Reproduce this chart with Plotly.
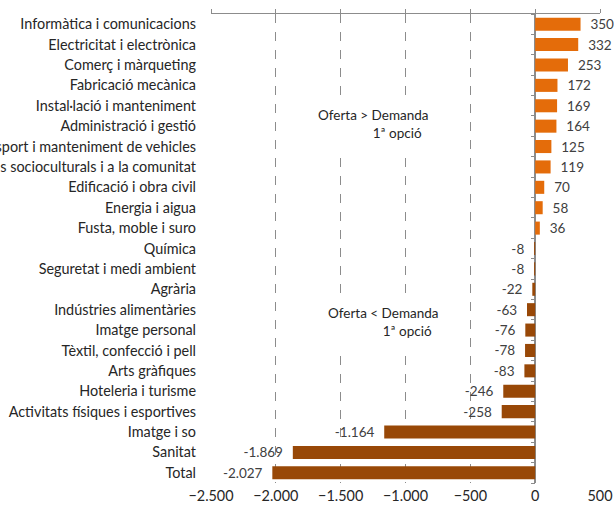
import plotly.graph_objects as go

categories = [
    "Informàtica i comunicacions", "Electricitat i electrònica", "Comerç i màrqueting",
    "Fabricació mecànica", "Instal·lació i manteniment", "Administració i gestió",
    "Transport i manteniment de vehicles", "Serveis socioculturals i a la comunitat",
    "Edificació i obra civil", "Energia i aigua", "Fusta, moble i suro", "Química",
    "Seguretat i medi ambient", "Agrària", "Indústries alimentàries", "Imatge personal",
    "Tèxtil, confecció i pell", "Arts gràfiques", "Hoteleria i turisme",
    "Activitats físiques i esportives", "Imatge i so", "Sanitat", "Total",
]
values = [350, 332, 253, 172, 169, 164, 125, 119, 70, 58, 36, -8, -8, -22, -63, -76,
          -78, -83, -246, -258, -1164, -1869, -2027]
x_ticks = [-2500, -2000, -1500, -1000, -500, 0, 500]

POS = "#E46C0A"
NEG = "#984807"
colors = [POS if v >= 0 else NEG for v in values]
label_templates = ["&nbsp;&nbsp;%{x:,}" if v >= 0 else "%{x:,}&nbsp;&nbsp;" for v in values]
FONT = "Lato"
FS = 14.4
TXT = "#262626"
GRID = "#8c8c8c"
AXIS = "#8c8c8c"
n = len(categories)
row_index = list(range(n))
boundaries = [i - 0.5 for i in range(n + 1)]

fig = go.Figure()
fig.add_trace(go.Bar(
    y=categories, x=values, orientation="h",
    marker=dict(color=colors, line=dict(width=0)),
    texttemplate=label_templates, textposition="outside",
    constraintext="none",
    textfont=dict(family=FONT, size=13.5, color="#404040"),
    cliponaxis=False, hoverinfo="skip",
))
fig.add_trace(go.Scatter(
    y=row_index, x=values, xaxis="x2", yaxis="y2", mode="markers",
    marker=dict(opacity=0), hoverinfo="skip", showlegend=False,
))

fig.add_annotation(x=-1246, y=4.9, xref="x", yref="y",
                   text="Oferta > Demanda<br>1ª opció&nbsp;&nbsp;", showarrow=False,
                   align="right", bgcolor="white", borderpad=8,
                   font=dict(family=FONT, size=13.5, color=TXT))
fig.add_annotation(x=-1169, y=14.6, xref="x", yref="y",
                   text="Oferta < Demanda<br>1ª opció&nbsp;&nbsp;", showarrow=False,
                   align="right", bgcolor="white", borderpad=8,
                   font=dict(family=FONT, size=13.5, color=TXT))

fig.update_layout(
    width=614, height=507,
    margin=dict(l=211, r=14, t=14, b=24),
    paper_bgcolor="white", plot_bgcolor="white",
    separators=",.",
    showlegend=False,
    bargap=0.36,
    hovermode=False,
    font=dict(family=FONT, size=FS, color=TXT),
    xaxis=dict(
        range=[-2500, 500], tickvals=x_ticks, tickformat=",",
        showgrid=True, gridcolor=GRID, griddash="dash", gridwidth=1,
        zeroline=True, zerolinecolor=AXIS, zerolinewidth=1.5,
        showline=False, ticks="", automargin=False, ticklabelstandoff=3,
        tickfont=dict(family=FONT, size=FS, color=TXT),
    ),
    xaxis2=dict(
        overlaying="x", side="top", matches="x", range=[-2500, 500],
        tickvals=x_ticks, showticklabels=False, showgrid=False, zeroline=False,
        showline=True, linecolor=AXIS, linewidth=1.5,
        ticks="outside", ticklen=4, tickcolor=AXIS, automargin=False,
    ),
    yaxis=dict(
        range=[n - 0.5, -0.5], automargin=False, showgrid=False,
        ticks="", ticklabelstandoff=14,
        tickfont=dict(family=FONT, size=FS, color=TXT),
    ),
    yaxis2=dict(
        overlaying="y", anchor="free", position=2500 / 3000, side="left",
        type="linear", range=[n - 0.5, -0.5], tickvals=boundaries,
        showticklabels=False, showgrid=False, zeroline=False, showline=False,
        ticks="outside", ticklen=4, tickcolor=AXIS, tickwidth=1, automargin=False,
    ),
)

fig.write_html(
    "out.html",
    config={"displayModeBar": False, "staticPlot": True},
    post_script="document.body.style.margin='0';document.body.style.overflow='hidden';",
)
